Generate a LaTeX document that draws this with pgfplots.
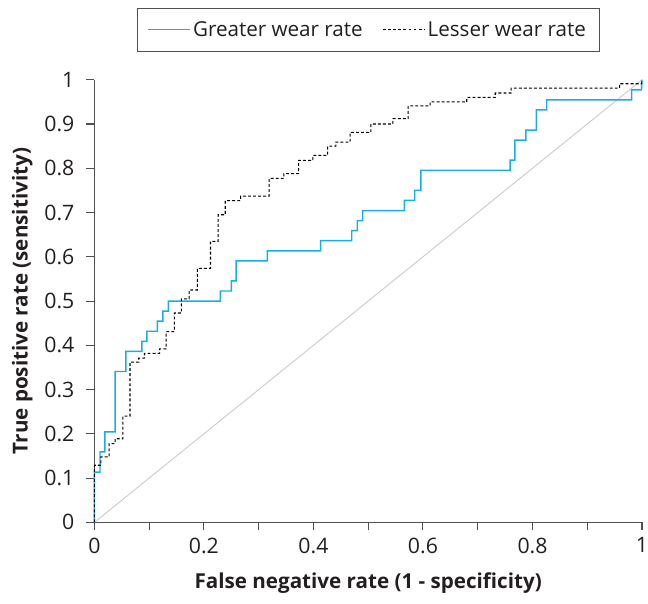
\documentclass[border=0pt]{standalone}
\usepackage{pgfplots}
\pgfplotsset{compat=1.18}
\usepackage{fontspec}
\setmainfont{Open Sans}
\definecolor{greaterBlue}{HTML}{1AADE4}
\definecolor{diagGray}{HTML}{CCCCCC}
\definecolor{axisGray}{HTML}{505050}
\definecolor{textDark}{HTML}{231F20}

\begin{document}
\begin{tikzpicture}
  \begin{axis}[
      name=ax,
      scale only axis,
      width=412pt, height=333pt,
      xmin=0, xmax=1, ymin=0, ymax=1,
      axis x line=bottom, axis y line=left,
      axis line style={-, axisGray, line width=1.1pt},
      xtick={0,0.2,0.4,0.6,0.8,1},
      minor xtick={0.1,0.3,0.5,0.7,0.9},
      ytick={0,0.1,0.2,0.3,0.4,0.5,0.6,0.7,0.8,0.9,1},
      xticklabels={0,0.2,0.4,0.6,0.8,1},
      yticklabels={0,0.1,0.2,0.3,0.4,0.5,0.6,0.7,0.8,0.9,1},
      tick align=outside,
      major tick length=6pt, minor tick length=6pt,
      tick style={axisGray, line width=0.8pt},
      every tick label/.style={font=\fontsize{16}{19}\selectfont, text=textDark},
      xticklabel style={yshift=-2pt},
      yticklabel style={xshift=-5.5pt},
      xlabel={\textbf{False negative rate (1 - specificity)}},
      ylabel={\textbf{True positive rate (sensitivity)}},
      label style={font=\fontsize{15.5}{19}\selectfont, text=textDark},
      xlabel style={yshift=-8pt},
      ylabel style={yshift=2pt},
      legend columns=2,
      legend style={at={(0.5,1)}, anchor=south, yshift=21pt,
        draw=axisGray, line width=0.6pt,
        font=\fontsize{15.5}{19}\selectfont, text=textDark,
        /tikz/every even column/.append style={column sep=13pt},
        inner xsep=8pt, inner ysep=8pt},
      legend image code/.code={\draw[#1] (0pt,0pt) -- (25pt,0pt);
        \path (0pt,0pt) -- (31pt,0pt);},
      legend cell align=left,
      clip=false,
    ]
    \addplot[draw=diagGray, line width=0.7pt, forget plot] coordinates {(0,0) (1,1)};

    \addplot[draw=greaterBlue, line width=1.1pt] coordinates {
      (0,0) (0,0.1136) (0.0103,0.1136) (0.0103,0.1591) (0.019,0.1591)
      (0.019,0.2045) (0.038,0.2045) (0.038,0.3409) (0.0576,0.3409)
      (0.0576,0.3864) (0.0867,0.3864) (0.0867,0.4091) (0.096,0.4091)
      (0.096,0.4318) (0.115,0.4318) (0.115,0.4545) (0.125,0.4545)
      (0.125,0.4773) (0.135,0.4773) (0.135,0.5) (0.230,0.5)
      (0.230,0.5227) (0.250,0.5227) (0.250,0.5455) (0.259,0.5455)
      (0.259,0.5909) (0.316,0.5909) (0.316,0.6136) (0.413,0.6136)
      (0.413,0.6364) (0.470,0.6364) (0.470,0.6591) (0.480,0.6591)
      (0.480,0.6818) (0.490,0.6818) (0.490,0.7045) (0.566,0.7045)
      (0.566,0.7273) (0.585,0.7273) (0.585,0.75) (0.596,0.75)
      (0.596,0.7955) (0.759,0.7955) (0.759,0.8182) (0.768,0.8182)
      (0.768,0.8636) (0.788,0.8636) (0.788,0.8864) (0.807,0.8864)
      (0.807,0.9318) (0.826,0.9318) (0.826,0.9545) (0.981,0.9545)
      (0.981,0.9773) (0.999,0.9773) (1,1)
    };
    \addlegendentry{Greater wear rate}

    \addplot[draw=black, line width=0.8pt, dash pattern=on 2.2pt off 1.6pt] coordinates {
      (0,0) (0,0.129) (0.012,0.129) (0.012,0.148) (0.027,0.148)
      (0.027,0.178) (0.038,0.178) (0.038,0.189) (0.052,0.189)
      (0.052,0.240) (0.065,0.240) (0.065,0.362) (0.081,0.362)
      (0.081,0.371) (0.0915,0.371) (0.0915,0.382) (0.119,0.382)
      (0.119,0.392) (0.131,0.392) (0.131,0.431) (0.146,0.431)
      (0.146,0.473) (0.159,0.473) (0.159,0.505) (0.173,0.505)
      (0.173,0.525) (0.188,0.525) (0.188,0.574) (0.212,0.574)
      (0.212,0.635) (0.226,0.635) (0.226,0.695) (0.239,0.695)
      (0.239,0.727) (0.267,0.727) (0.267,0.737) (0.319,0.737)
      (0.319,0.777) (0.346,0.777) (0.346,0.788) (0.373,0.788)
      (0.373,0.818) (0.399,0.818) (0.399,0.829) (0.426,0.829)
      (0.426,0.850) (0.441,0.850) (0.441,0.859) (0.467,0.859)
      (0.467,0.881) (0.505,0.881) (0.505,0.900) (0.545,0.900)
      (0.545,0.912) (0.573,0.912) (0.573,0.941) (0.613,0.941)
      (0.613,0.950) (0.680,0.950) (0.680,0.960) (0.732,0.960)
      (0.732,0.970) (0.761,0.970) (0.761,0.981) (0.959,0.981)
      (0.959,0.991) (0.999,0.991) (1,1)
    };
    \addlegendentry{Lesser wear rate}
  \end{axis}
  \pgfresetboundingbox
  \path ([xshift=-71pt,yshift=-61pt]ax.south west)
    rectangle ([xshift=4.5pt,yshift=60pt]ax.north east);
\end{tikzpicture}
\end{document}
